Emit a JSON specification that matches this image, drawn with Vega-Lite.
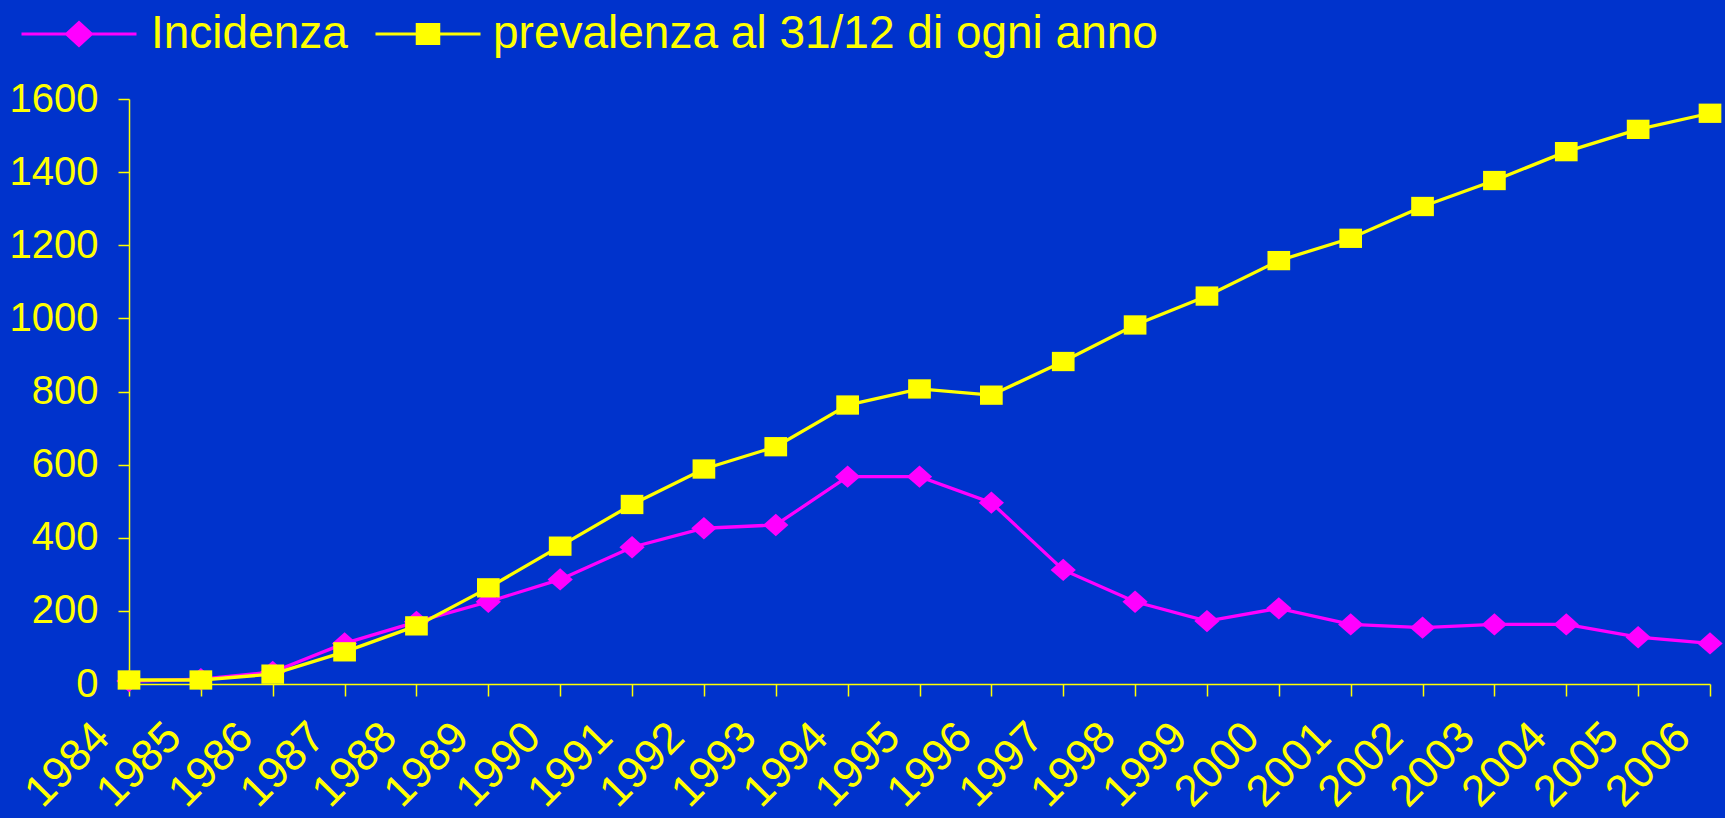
{
  "$schema": "https://vega.github.io/schema/vega-lite/v6.json",
  "width": 1581,
  "height": 585,
  "autosize": "none",
  "padding": {"left": 129, "top": 99, "right": 15, "bottom": 134},
  "background": "#0033cc",
  "config": {"view": {"stroke": null}, "font": "Liberation Sans"},
  "data": {"values": [
    {"anno": "1984", "serie": "Incidenza", "valore": 8},
    {"anno": "1985", "serie": "Incidenza", "valore": 13},
    {"anno": "1986", "serie": "Incidenza", "valore": 33},
    {"anno": "1987", "serie": "Incidenza", "valore": 111},
    {"anno": "1988", "serie": "Incidenza", "valore": 170},
    {"anno": "1989", "serie": "Incidenza", "valore": 225},
    {"anno": "1990", "serie": "Incidenza", "valore": 286},
    {"anno": "1991", "serie": "Incidenza", "valore": 374},
    {"anno": "1992", "serie": "Incidenza", "valore": 426},
    {"anno": "1993", "serie": "Incidenza", "valore": 435},
    {"anno": "1994", "serie": "Incidenza", "valore": 567},
    {"anno": "1995", "serie": "Incidenza", "valore": 567},
    {"anno": "1996", "serie": "Incidenza", "valore": 496},
    {"anno": "1997", "serie": "Incidenza", "valore": 312},
    {"anno": "1998", "serie": "Incidenza", "valore": 225},
    {"anno": "1999", "serie": "Incidenza", "valore": 172},
    {"anno": "2000", "serie": "Incidenza", "valore": 207},
    {"anno": "2001", "serie": "Incidenza", "valore": 163},
    {"anno": "2002", "serie": "Incidenza", "valore": 154},
    {"anno": "2003", "serie": "Incidenza", "valore": 163},
    {"anno": "2004", "serie": "Incidenza", "valore": 163},
    {"anno": "2005", "serie": "Incidenza", "valore": 128},
    {"anno": "2006", "serie": "Incidenza", "valore": 111},
    {"anno": "1984", "serie": "prevalenza al 31/12 di ogni anno", "valore": 11},
    {"anno": "1985", "serie": "prevalenza al 31/12 di ogni anno", "valore": 11},
    {"anno": "1986", "serie": "prevalenza al 31/12 di ogni anno", "valore": 27},
    {"anno": "1987", "serie": "prevalenza al 31/12 di ogni anno", "valore": 88},
    {"anno": "1988", "serie": "prevalenza al 31/12 di ogni anno", "valore": 159},
    {"anno": "1989", "serie": "prevalenza al 31/12 di ogni anno", "valore": 263},
    {"anno": "1990", "serie": "prevalenza al 31/12 di ogni anno", "valore": 377},
    {"anno": "1991", "serie": "prevalenza al 31/12 di ogni anno", "valore": 491},
    {"anno": "1992", "serie": "prevalenza al 31/12 di ogni anno", "valore": 588},
    {"anno": "1993", "serie": "prevalenza al 31/12 di ogni anno", "valore": 649},
    {"anno": "1994", "serie": "prevalenza al 31/12 di ogni anno", "valore": 763},
    {"anno": "1995", "serie": "prevalenza al 31/12 di ogni anno", "valore": 807},
    {"anno": "1996", "serie": "prevalenza al 31/12 di ogni anno", "valore": 790},
    {"anno": "1997", "serie": "prevalenza al 31/12 di ogni anno", "valore": 882},
    {"anno": "1998", "serie": "prevalenza al 31/12 di ogni anno", "valore": 982},
    {"anno": "1999", "serie": "prevalenza al 31/12 di ogni anno", "valore": 1061},
    {"anno": "2000", "serie": "prevalenza al 31/12 di ogni anno", "valore": 1158},
    {"anno": "2001", "serie": "prevalenza al 31/12 di ogni anno", "valore": 1219},
    {"anno": "2002", "serie": "prevalenza al 31/12 di ogni anno", "valore": 1306},
    {"anno": "2003", "serie": "prevalenza al 31/12 di ogni anno", "valore": 1377},
    {"anno": "2004", "serie": "prevalenza al 31/12 di ogni anno", "valore": 1456},
    {"anno": "2005", "serie": "prevalenza al 31/12 di ogni anno", "valore": 1517},
    {"anno": "2006", "serie": "prevalenza al 31/12 di ogni anno", "valore": 1561}
  ]},
  "encoding": {
    "x": {
      "field": "anno", "type": "ordinal",
      "scale": {"type": "point", "padding": 0},
      "axis": {
        "title": null, "grid": false,
        "domainColor": "#ffff00", "domainWidth": 1.5,
        "tickColor": "#ffff00", "tickSize": 12, "tickWidth": 1.5,
        "labelColor": "#ffff00", "labelFont": "Liberation Sans", "labelFontSize": 44,
        "labelAngle": -45, "labelAlign": "right", "labelBaseline": "middle",
        "labelOffset": -27, "labelPadding": 34, "labelOverlap": false
      }
    },
    "y": {
      "field": "valore", "type": "quantitative",
      "scale": {"domain": [0, 1600], "nice": false},
      "axis": {
        "title": null, "grid": false, "format": "d",
        "values": [0, 200, 400, 600, 800, 1000, 1200, 1400, 1600],
        "domainColor": "#ffff00", "domainWidth": 1.5,
        "tickColor": "#ffff00", "tickSize": 11, "tickWidth": 1.5,
        "labelColor": "#ffff00", "labelFont": "Liberation Sans", "labelFontSize": 40,
        "labelPadding": 20
      }
    }
  },
  "layer": [
    {
      "transform": [{"filter": "datum.serie === 'Incidenza'"}],
      "encoding": {
        "color": {
          "field": "serie", "type": "nominal",
          "scale": {"domain": ["Incidenza"], "range": ["#ff00ff"]},
          "legend": {
            "title": null, "orient": "none", "legendX": -109, "legendY": -124,
            "padding": 0,
            "symbolType": "M-1,0L1,0M-0.217,0L0,-0.2L0.217,0L0,0.2Z",
            "symbolSize": 13225, "symbolStrokeWidth": 3,
            "symbolFillColor": "#ff00ff", "symbolStrokeColor": "#ff00ff", "symbolOpacity": 1,
            "labelFont": "Liberation Sans", "labelFontSize": 46, "labelColor": "#ffff00",
            "labelOffset": 13, "labelLimit": 0
          }
        }
      },
      "layer": [
        {"mark": {"type": "line", "strokeWidth": 3.3}},
        {"mark": {"type": "point", "filled": true, "opacity": 1, "size": 500, "shape": "M-1.13,0L0,-1L1.13,0L0,1Z"}}
      ]
    },
    {
      "transform": [{"filter": "datum.serie !== 'Incidenza'"}],
      "encoding": {
        "color": {
          "field": "serie", "type": "nominal",
          "scale": {"domain": ["prevalenza al 31/12 di ogni anno"], "range": ["#ffff00"]},
          "legend": {
            "title": null, "orient": "none", "legendX": 245, "legendY": -119,
            "padding": 0,
            "symbolType": "M-1,0L1,0M-0.205,-0.18L0.205,-0.18L0.205,0.18L-0.205,0.18Z",
            "symbolSize": 11025, "symbolStrokeWidth": 3,
            "symbolFillColor": "#ffff00", "symbolStrokeColor": "#ffff00", "symbolOpacity": 1,
            "labelFont": "Liberation Sans", "labelFontSize": 46, "labelColor": "#ffff00",
            "labelOffset": 11, "labelLimit": 0
          }
        }
      },
      "layer": [
        {"mark": {"type": "line", "strokeWidth": 3.3}},
        {"mark": {"type": "point", "filled": true, "opacity": 1, "size": 500, "shape": "M-1.015,-0.863L1.015,-0.863L1.015,0.863L-1.015,0.863Z"}}
      ]
    }
  ],
  "resolve": {"scale": {"color": "independent"}, "legend": {"color": "independent"}}
}
